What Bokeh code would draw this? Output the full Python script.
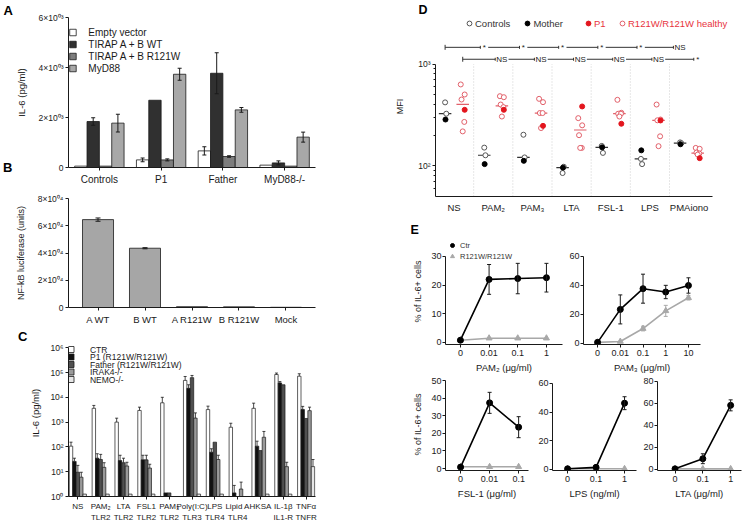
import numpy as np
from bokeh.plotting import figure
from bokeh.layouts import row, column
from bokeh.models import (Range1d, FixedTicker, Legend, LegendItem, Whisker, TeeHead,
                          ColumnDataSource, LinearAxis, LogAxis)
from bokeh.core.properties import value
from bokeh.embed import file_html
from bokeh.resources import INLINE

FONT = "Liberation Sans"
INK = "#1a1a1a"
nan = float("nan")

# ---------------- Panel A data ----------------
a_groups = ["Controls", "P1", "Father", "MyD88-/-"]
a_series = ["Empty vector", "TIRAP A + B  WT", "TIRAP A + B R121W", "MyD88"]
a_empty = [55, 305, 665, 95]
a_empty_err = [0, 75, 165, 0]
a_wt = [1840, 2690, 3770, 185]
a_wt_err = [150, 0, 820, 80]
a_r121w = [55, 305, 440, 55]
a_r121w_err = [0, 40, 30, 0]
a_myd88 = [1775, 3730, 2305, 1215]
a_myd88_err = [355, 240, 95, 200]
a_yticks = [0, 2000, 4000, 6000]
a_ytick_labels = ["0", "2×10⁰³", "4×10⁰³", "6×10⁰³"]

# ---------------- Panel B data ----------------
b_constructs = ["A WT", "B WT", "A R121W", "B R121W", "Mock"]
b_values = [64500, 43500, 600, 500, 150]
b_err = [1200, 400, 0, 0, 0]
b_yticks = [0, 20000, 40000, 60000, 80000]
b_ytick_labels = ["0", "2×10⁰⁴", "4×10⁰⁴", "6×10⁰⁴", "8×10⁰⁴"]

# ---------------- Panel C data ----------------
c_stimuli = ["NS", "PAM₂\nTLR2", "LTA\nTLR2", "FSL1\nTLR2", "PAM₃\nTLR2", "Poly(I:C)\nTLR3",
             "LPS\nTLR4", "Lipid A\nTLR4", "HKSA", "IL-1β\nIL1-R", "TNFα\nTNFR"]
c_series = ["CTR", "P1 (R121W/R121W)", "Father  (R121W/R121W)", "IRAK4-/-", "NEMO-/-"]
c_ctr = [107, 3600, 1000, 2950, 6000, 48000, 3200, 620, 3600, 83000, 71000]
c_ctr_hi = [155, 4700, 1440, 4000, 10000, 69000, 4400, 900, 5800, 95000, 89000]
c_p1 = [26, 35, 28, 30, 1.4, 23000, 61, 1.4, 107, 38000, 3200]
c_p1_hi = [35, 53, 46, 46, nan, 32000, 84, 2.8, 170, 43000, 4300]
c_father = [9.5, 31, 23, 30, 1.4, 62000, 155, nan, 71, 32000, 1400]
c_father_hi = [18, 50, 35, 46, nan, 76000, nan, nan, nan, nan, nan]
c_irak4 = [6, 15, 17, 14, nan, 1450, 31, 2.0, 245, 16, 2900]
c_irak4_hi = [9.5, 23, 24, 20, nan, 2350, 46, 3.8, 420, 24, 4000]
c_nemo = [1.25, 1.25, 1.25, 1.25, nan, 1.25, 1.25, nan, 1.25, 1.25, 16]
c_nemo_hi = [nan, nan, nan, nan, nan, nan, nan, nan, nan, nan, 31]
c_yticks = [1, 10, 100, 1000, 10000, 100000, 1000000]
c_ytick_labels = ["10⁰", "10¹", "10²", "10³", "10⁴", "10⁵", "10⁶"]

# ---------------- Panel D data ----------------
d_groups = ["NS", "PAM₂", "PAM₃", "LTA", "FSL-1", "LPS", "PMAiono"]
d_controls = [[420, 325], [151, 127], [202, 121], [85, 98], [157, 134], [117, 104], [170, 167]]
d_mother = [285, 104, 112, 96, 152, 142, 163]
d_healthy = [[630, 502, 448, 270, 218], [483, 472, 400, 377, 305], [455, 422, 330, 330, 235],
             [294, 250, 200, 150, 150], [445, 332, 325, 325, 305], [400, 285, 280, 195, 156],
             [150, 147, 135, 132, 129]]
d_p1 = [355, 355, 247, 383, 259, 279, 119]
d_sig_controls = ["*", "*", "*", "*", "*", "NS"]
d_sig_healthy = ["NS", "NS", "NS", "NS", "NS", "*"]
d_legend = ["Controls", "Mother", "P1", "R121W/R121W healthy"]

# ---------------- Panel E data ----------------
e_series = ["Ctr", "R121W/R121W"]
e1_doses = ["0", "0.01", "0.1", "1"]
e1_ctr = [0.8, 22.0, 22.3, 22.6]
e1_ctr_err = [0, 5.2, 5.3, 5.0]
e1_mut = [0.8, 1.5, 1.5, 1.5]
e1_mut_err = [0, 0, 0, 0]
e2_doses = ["0", "0.01", "0.1", "1", "10"]
e2_ctr = [0.8, 23.5, 37.8, 35.5, 40.0]
e2_ctr_err = [0, 10.0, 10.0, 4.6, 5.3]
e2_mut = [0.8, 1.4, 10.3, 22.5, 31.5]
e2_mut_err = [0, 0, 1.6, 3.8, 1.5]
e3_doses = ["0", "0.01", "0.1"]
e3_ctr = [0.8, 37.5, 23.6]
e3_ctr_err = [0, 6.0, 6.0]
e3_mut = [1.0, 1.0, 1.0]
e3_mut_err = [0, 0, 0]
e4_doses = ["0", "0.1", "1"]
e4_ctr = [0.5, 1.5, 46.2]
e4_ctr_err = [0, 0, 4.5]
e4_mut = [0.5, 0.5, 0.5]
e4_mut_err = [0, 0, 0]
e5_doses = ["0", "0.1", "1"]
e5_ctr = [0.5, 9.7, 58.2]
e5_ctr_err = [0, 4.5, 5.0]
e5_mut = [0.5, 0.5, 0.5]
e5_mut_err = [0, 0, 0]


# ---------------- helpers ----------------
def style_axis(ax):
    ax.axis_line_color = INK
    ax.axis_line_width = 1
    ax.major_tick_line_color = INK
    ax.major_tick_in = 0
    ax.major_tick_out = 3
    ax.minor_tick_line_color = None
    ax.major_label_standoff = 2
    ax.major_label_text_font = FONT
    ax.major_label_text_font_size = "9px"
    ax.major_label_text_color = INK
    ax.axis_label_text_font = FONT
    ax.axis_label_text_font_size = "9.5px"
    ax.axis_label_text_font_style = "normal"
    ax.axis_label_text_color = INK


def base_fig(width, height, x_range, y_range, left, right, top, bottom, y_type="linear"):
    p = figure(width=width, height=height, x_range=x_range, y_range=y_range,
               y_axis_type=y_type, output_backend="svg", toolbar_location=None,
               min_border_left=left, min_border_right=right,
               min_border_top=top, min_border_bottom=bottom)
    p.outline_line_color = None
    p.xgrid.visible = False
    p.ygrid.visible = False
    p.background_fill_color = "white"
    p.border_fill_color = "white"
    for ax in p.axis:
        style_axis(ax)
    return p


def panel_title(p, txt, offset, standoff=0, size="13px"):
    p.title.text = txt
    p.title.align = "left"
    p.title.offset = offset
    p.title.standoff = standoff
    p.title.text_font = FONT
    p.title.text_font_size = size
    p.title.text_font_style = "bold"
    p.title.text_color = "black"


def letter_axis(p, ticks, labels, log=False):
    ax = LogAxis() if log else LinearAxis()
    ax.ticker = FixedTicker(ticks=ticks, minor_ticks=[])
    ax.major_label_overrides = dict(zip(ticks, labels))
    ax.axis_line_color = None
    ax.major_tick_line_color = None
    ax.minor_tick_line_color = None
    ax.major_tick_out = 0
    ax.major_tick_in = 0
    ax.major_label_standoff = 0
    ax.major_label_text_font = FONT
    ax.major_label_text_font_size = "13px"
    ax.major_label_text_font_style = "bold"
    ax.major_label_text_color = "black"
    p.add_layout(ax, "left")


def whiskers(p, x, lo, hi, size=4, lower=True, color=INK, width=1.0):
    x = np.asarray(x, float)
    lo = np.asarray(lo, float)
    hi = np.asarray(hi, float)
    m = np.isfinite(lo) & np.isfinite(hi) & (hi > lo)
    if not m.any():
        return
    src = ColumnDataSource(dict(x=x[m], lo=lo[m], hi=hi[m]))
    w = Whisker(source=src, base="x", lower="lo", upper="hi", dimension="height",
                line_color=color, line_width=width, level="overlay",
                upper_head=TeeHead(size=size, line_color=color, line_width=width),
                lower_head=TeeHead(size=size, line_color=color, line_width=width) if lower else None)
    p.add_layout(w)


# ================= Panel A =================
A_BOTTOM, A_LEFT, A_X0, A_PPU, A_UPP = 167, 68, -0.5, 62.25, 40.0
pA = base_fig(392, 188, Range1d(-0.5, 3.5), Range1d(0, 6000), 68, 75, 17, 21)
xa = np.arange(len(a_groups))
a_cols = ["white", "#303030", "#7d7d7d", "#a8a8a8"]
a_offsets = [-0.3, -0.1, 0.1, 0.3]
for name, vals, errs, col, off in zip(a_series, [a_empty, a_wt, a_r121w, a_myd88],
                                      [a_empty_err, a_wt_err, a_r121w_err, a_myd88_err],
                                      a_cols, a_offsets):
    pA.vbar(x=xa + off, top=vals, bottom=0, width=0.2, fill_color=col,
            line_color=INK, line_width=0.8)
    v = np.array(vals, float)
    e = np.array(errs, float)
    whiskers(pA, xa + off, v - e, v + e, size=4)
pA.xaxis.ticker = FixedTicker(ticks=[int(i) for i in xa])
pA.xaxis.major_label_overrides = {int(i): g for i, g in enumerate(a_groups)}
pA.xaxis.major_label_text_font_size = "10px"
pA.xaxis.major_label_standoff = 3
pA.yaxis.ticker = FixedTicker(ticks=a_yticks)
pA.yaxis.major_label_overrides = dict(zip(a_yticks, a_ytick_labels))
pA.yaxis.major_label_text_font_size = "8.5px"
pA.yaxis.axis_label = "IL-6 (pg/ml)"
pA.yaxis.axis_label_standoff = 9
# legend of panel A drawn with glyphs
a_leg_px = 32 + 12 * np.arange(len(a_series))
a_leg_y = (A_BOTTOM - a_leg_px) * A_UPP
pA.scatter(x=[A_X0 + (72.5 - A_LEFT) / A_PPU] * len(a_series), y=a_leg_y, marker="square",
           size=6.5, fill_color=a_cols, line_color=INK, line_width=0.8)
pA.text(x=[A_X0 + (88 - A_LEFT) / A_PPU] * len(a_series), y=a_leg_y, text=a_series,
        text_font=value(FONT), text_font_size="10px", text_baseline="middle", text_color=INK)
panel_title(pA, "A", -65)
letter_axis(pA, [0], ["B"])

# ================= Panel B =================
pB = base_fig(392, 139, Range1d(-0.628, 4.628), Range1d(0, 80000), 68, 77, 10, 17)
xb = np.arange(len(b_constructs))
pB.vbar(x=xb, top=b_values, bottom=0, width=0.66, fill_color="#a6a6a6",
        line_color=INK, line_width=0.8)
bv = np.array(b_values, float)
be = np.array(b_err, float)
whiskers(pB, xb, bv - be, bv + be, size=5)
pB.xaxis.ticker = FixedTicker(ticks=[int(i) for i in xb])
pB.xaxis.major_label_overrides = {int(i): c for i, c in enumerate(b_constructs)}
pB.xaxis.major_label_text_font_size = "9.5px"
pB.xaxis.major_label_standoff = 3
pB.yaxis.ticker = FixedTicker(ticks=b_yticks)
pB.yaxis.major_label_overrides = dict(zip(b_yticks, b_ytick_labels))
pB.yaxis.major_label_text_font_size = "8.5px"
pB.yaxis.axis_label = "NF-kB luciferase (units)"
pB.yaxis.axis_label_text_font_size = "9px"
pB.yaxis.axis_label_standoff = 9

# ================= Panel C =================
C_BOTTOM, C_PPD, C_LEFT, C_X0, C_PPU = 496, 24.8, 47, -0.41, 31.9
c_top_log = (C_BOTTOM - 329) / C_PPD
pC = base_fig(392, 198, Range1d(-0.41, 10.41), Range1d(1, 10 ** c_top_log), 47, 0, 2, 29,
              y_type="log")
xc = np.arange(len(c_stimuli))
c_cols = ["white", "#111111", "#505050", "#9a9a9a", "#e6e6e6"]
c_offsets = [-0.3, -0.15, 0.0, 0.15, 0.3]
for vals, his, col, off in zip([c_ctr, c_p1, c_father, c_irak4, c_nemo],
                               [c_ctr_hi, c_p1_hi, c_father_hi, c_irak4_hi, c_nemo_hi],
                               c_cols, c_offsets):
    v = np.array(vals, float)
    m = np.isfinite(v)
    pC.vbar(x=(xc + off)[m], top=v[m], bottom=1, width=0.15, fill_color=col,
            line_color=INK, line_width=0.7)
    whiskers(pC, xc + off, v, np.array(his, float), size=3, lower=False, width=0.8)
pC.xaxis.ticker = FixedTicker(ticks=[int(i) for i in xc])
pC.xaxis.major_label_overrides = {int(i): s for i, s in enumerate(c_stimuli)}
pC.xaxis.major_label_text_font_size = "8px"
pC.xaxis.major_label_text_line_height = 1.25
pC.yaxis.ticker = FixedTicker(ticks=c_yticks, minor_ticks=[])
pC.yaxis.major_label_overrides = dict(zip(c_yticks, c_ytick_labels))
pC.yaxis.major_label_text_font_size = "8.5px"
pC.yaxis.axis_label = "IL-6 (pg/ml)"
pC.yaxis.axis_label_standoff = 6
pC.yaxis.bounds = (1, 1e6)
# compact legend of panel C, drawn with glyphs
c_leg_px = 349 + 7.5 * np.arange(len(c_series))
c_leg_y = 10 ** ((C_BOTTOM - c_leg_px) / C_PPD)
pC.scatter(x=[C_X0 + (50.5 - C_LEFT) / C_PPU] * len(c_series), y=c_leg_y, marker="square",
           size=6, fill_color=c_cols, line_color=INK, line_width=0.8)
pC.text(x=[C_X0 + (77 - C_LEFT) / C_PPU] * len(c_series), y=c_leg_y, text=c_series,
        text_font=value(FONT), text_font_size="8.5px", text_baseline="middle", text_color=INK)
letter_axis(pC, [10 ** ((C_BOTTOM - 333) / C_PPD)], ["C"], log=True)

# ================= Panel D =================
D_LOG0 = np.log10(50)
D_PPD = 102.4  # pixels per decade
D_PPU = 40.1
pD = base_fig(358, 215, Range1d(-0.475, -0.475 + 300 / D_PPU),
              Range1d(50, 10 ** (D_LOG0 + 181 / D_PPD)), 36, 22, 16, 18, y_type="log")


def d_y(px):
    return 10 ** (D_LOG0 + px / D_PPD)


xd = np.arange(len(d_groups))
RED = "#e3161e"
PINK = "#e2606a"
pD.segment(x0=xd[:-1] + 0.5, x1=xd[:-1] + 0.5, y0=50, y1=1000, line_color="#cfcfcf",
           line_width=1, line_dash="1 2")
c_off, h_off = -0.23, 0.22
ctrl_jit = [0.0, 0.03]
heal_jit = [-0.05, 0.05, -0.03, 0.04, 0.0]
cx, cy, mx, my, hx, hy, px_, py_ = [], [], [], [], [], [], [], []
ctrl_med, heal_med = [], []
for i in range(len(d_groups)):
    for j, vv in enumerate(d_controls[i]):
        cx.append(i + c_off + ctrl_jit[j])
        cy.append(vv)
    mx.append(i + c_off + 0.01)
    my.append(d_mother[i])
    for j, vv in enumerate(d_healthy[i]):
        hx.append(i + h_off + heal_jit[j])
        hy.append(vv)
    px_.append(i + h_off + 0.05)
    py_.append(d_p1[i])
    ctrl_med.append(np.median(d_controls[i] + [d_mother[i]]))
    heal_med.append(np.median(d_healthy[i] + [d_p1[i]]))
pD.segment(x0=xd + c_off - 0.16, x1=xd + c_off + 0.16, y0=ctrl_med, y1=ctrl_med,
           line_color="#333333", line_width=1.2)
pD.segment(x0=xd + h_off - 0.16, x1=xd + h_off + 0.16, y0=heal_med, y1=heal_med,
           line_color=PINK, line_width=1.2)
r_ctrl = pD.scatter(x=cx, y=cy, marker="circle", size=5, fill_color="white",
                    line_color="#555555", line_width=1)
r_moth = pD.scatter(x=mx, y=my, marker="circle", size=5, fill_color="black",
                    line_color="black", line_width=1)
r_heal = pD.scatter(x=hx, y=hy, marker="circle", size=5, fill_color="white",
                    line_color=PINK, line_width=1)
r_p1 = pD.scatter(x=px_, y=py_, marker="circle", size=5, fill_color=RED,
                  line_color=RED, line_width=1)
for labels, off, ypx in [(d_sig_controls, c_off, 150), (d_sig_healthy, h_off, 138)]:
    yv = d_y(ypx)
    lx = [i + off for i in range(1, len(d_groups))]
    starts, ends = [], []
    prev = off
    for k, (lab, x) in enumerate(zip(labels, lx)):
        gap = 0.17 if lab == "NS" else 0.1
        starts.append(prev + (0.0 if k == 0 else (0.17 if labels[k - 1] == "NS" else 0.1)))
        ends.append(x - gap)
        prev = x
    pD.segment(x0=starts, x1=ends, y0=yv, y1=yv, line_color="#333333", line_width=1)
    pD.segment(x0=[off], x1=[off], y0=d_y(ypx - 2.5), y1=d_y(ypx + 2.5),
               line_color="#333333", line_width=1)
    pD.segment(x0=ends, x1=ends, y0=d_y(ypx - 1.5), y1=d_y(ypx + 1.5),
               line_color="#333333", line_width=1)
    pD.text(x=lx, y=[yv] * len(lx), text=labels, text_font=value(FONT), text_font_size="8px",
            text_align="center", text_baseline="middle", text_color="#222222")
pD.xaxis.ticker = FixedTicker(ticks=[int(i) for i in xd])
pD.xaxis.major_label_overrides = {int(i): g for i, g in enumerate(d_groups)}
pD.xaxis.major_tick_out = 0
pD.xaxis.major_label_standoff = 5
pD.xaxis.major_label_text_font_size = "9.5px"
pD.xaxis.bounds = (-0.475, 6.6)
pD.yaxis.ticker = FixedTicker(ticks=[100, 1000],
                              minor_ticks=[60, 70, 80, 90, 200, 300, 400, 500, 600, 700, 800, 900])
pD.yaxis.major_label_overrides = {100: "10²", 1000: "10³"}
pD.yaxis.minor_tick_line_color = INK
pD.yaxis.minor_tick_in = 0
pD.yaxis.minor_tick_out = 2
pD.yaxis.bounds = (50, 1000)
pD.yaxis.major_label_text_font_size = "8.5px"
pD.yaxis.axis_label = "MFI"
pD.yaxis.axis_label_text_font_size = "9px"
pD.yaxis.axis_label_standoff = 10


def d_legend_box(items, vx, color):
    leg = Legend(items=items, location=(vx, 167), orientation="horizontal",
                 glyph_width=12, glyph_height=12, label_height=12, label_width=0, spacing=11,
                 padding=0, margin=0, label_standoff=0, border_line_color=None,
                 background_fill_alpha=0, label_text_font=FONT, label_text_font_size="9.5px",
                 label_text_color=color)
    pD.add_layout(leg)


d_legend_box([LegendItem(label=d_legend[0], renderers=[r_ctrl]),
              LegendItem(label=d_legend[1], renderers=[r_moth])], 28, "#333333")
d_legend_box([LegendItem(label=d_legend[2], renderers=[r_p1])], 147, "#e8333d")
d_legend_box([LegendItem(label=d_legend[3], renderers=[r_heal])], 181, "#e8333d")
panel_title(pD, "D", -17, 0, "12.5px")


# ================= Panel E =================
def e_panel(width, height, borders, xr, yr, yticks, doses, ctr, ctr_err, mut, mut_err,
            xlabel, ylabel=None, legend=False):
    l, r, t, b = borders
    p = base_fig(width, height, Range1d(*xr), Range1d(*yr), l, r, t, b)
    x = np.arange(len(doses))
    cv, ce = np.array(ctr, float), np.array(ctr_err, float)
    mv, me = np.array(mut, float), np.array(mut_err, float)
    whiskers(p, x, mv - me, mv + me, size=4, color="#a8a8a8")
    p.line(x, mv, line_color="#a8a8a8", line_width=1.6)
    rm = p.scatter(x, mv, marker="triangle", size=6, fill_color="#a8a8a8", line_color="#a8a8a8")
    whiskers(p, x, cv - ce, cv + ce, size=4)
    p.line(x, cv, line_color="black", line_width=1.6)
    rc = p.scatter(x, cv, marker="circle", size=6, fill_color="black", line_color="black")
    p.xaxis.ticker = FixedTicker(ticks=[int(i) for i in x])
    p.xaxis.major_label_overrides = {int(i): d for i, d in enumerate(doses)}
    p.xaxis.axis_label = xlabel
    p.xaxis.axis_label_standoff = 3
    p.yaxis.ticker = FixedTicker(ticks=yticks)
    p.yaxis.bounds = (yr[0], yticks[-1])
    p.yaxis.major_label_standoff = 1
    if ylabel:
        p.yaxis.axis_label = ylabel
        p.yaxis.axis_label_text_font_size = "9px"
        p.yaxis.axis_label_standoff = 5
    if legend:
        leg = Legend(items=[LegendItem(label=e_series[0], renderers=[rc]),
                            LegendItem(label=e_series[1], renderers=[rm])],
                     location=(2, 83), orientation="vertical", glyph_width=10, glyph_height=10,
                     label_height=10, spacing=1, padding=0, margin=0, label_standoff=3,
                     border_line_color=None, background_fill_alpha=0, label_text_font=FONT,
                     label_text_font_size="7.5px", label_text_color="#333333")
        p.add_layout(leg)
    return p


ylab = "% of IL-6+ cells"
pE1 = e_panel(173, 160, (53, 3, 23, 31), (-0.52, 3.56), (-0.7, 36.27), [0, 10, 20, 30],
              e1_doses, e1_ctr, e1_ctr_err, e1_mut, e1_mut_err, "PAM₂ (μg/ml)", ylab, legend=True)
panel_title(pE1, "E", -35, 4, "12.5px")
pE2 = e_panel(185, 160, (18, 50, 23, 31), (-0.62, 4.53), (-0.69, 72.4), [0, 20, 40, 60],
              e2_doses, e2_ctr, e2_ctr_err, e2_mut, e2_mut_err, "PAM₃ (μg/ml)")
pE3 = e_panel(142, 150, (53, 6, 3, 55), (-0.52, 2.34), (-1.14, 51.4), [0, 10, 20, 30, 40, 50],
              e3_doses, e3_ctr, e3_ctr_err, e3_mut, e3_mut_err, "FSL-1 (μg/ml)", ylab)
pE4 = e_panel(106, 150, (18, 4, 3, 55), (-0.53, 2.42), (-0.7, 63.4), [0, 20, 40, 60],
              e4_doses, e4_ctr, e4_ctr_err, e4_mut, e4_mut_err, "LPS (ng/ml)")
pE5 = e_panel(110, 150, (15, 9, 3, 55), (-0.63, 2.39), (-1.0, 82.6), [0, 20, 40, 60, 80],
              e5_doses, e5_ctr, e5_ctr_err, e5_mut, e5_mut_err, "LTA (μg/ml)")

left = column(pA, pB, pC)
right = column(pD, row(pE1, pE2), row(pE3, pE4, pE5))
layout = row(left, right)

open("out.html", "w").write(file_html(layout, INLINE))
